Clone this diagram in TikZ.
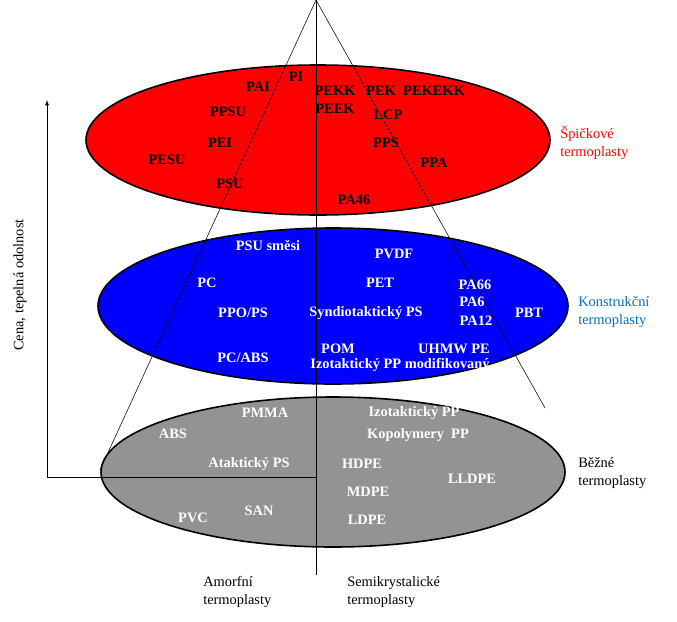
\documentclass[tikz,border=0pt]{standalone}
\usepackage{fontspec}
\setmainfont{Liberation Serif}
\usetikzlibrary{positioning}
\tikzset{
  plast/.style={draw=black,line width=1.2pt},
  lbl/.style={font=\bfseries\fontsize{10.8}{12}\selectfont,inner sep=0pt},
  lblw/.style={lbl,text=white},
  side/.style={font=\fontsize{10.8}{14}\selectfont,align=left,anchor=west,inner sep=0pt},
}
\begin{document}
\begin{tikzpicture}[x=0.75pt,y=-0.75pt]
\useasboundingbox (0,0) rectangle (677,621);
% ellipses
\fill[red] (318,140) ellipse (232 and 75);
\draw[plast] (318,140) ellipse (232 and 75);
\fill[blue] (333,306) ellipse (235 and 78);
\draw[plast] (333,306) ellipse (235 and 78);
\fill[gray!85] (333,472) ellipse (232 and 75);
\draw[plast] (333,472) ellipse (232 and 75);
% triangle and divider
\coordinate (apex) at (316,0);
\coordinate (lft) at (100,470);
\coordinate (rgt) at (545,408);
\coordinate (bot) at (316,575);
\draw (lft) -- (apex) -- (rgt);
\draw (apex) -- (bot);
% axes
\coordinate (o) at (47,477);
\coordinate (ytop) at (47,100);
\coordinate (xend) at (316,477);
\draw[-latex] (o) -- (ytop);
\draw (o) -- (xend);
\node[rotate=90,font=\fontsize{10.8}{12}\selectfont] (axis) at (20,285) {Cena, tepelná odolnost};
% red
\node[lbl] (pai) at (258,87) {PAI};
\node[lbl] (pi) at (296,77) {PI};
\node[lbl] (pekk) at (335,91) {PEKK};
\node[lbl] (pek) at (381,91) {PEK};
\node[lbl] (pekekk) at (434,91) {PEKEKK};
\node[lbl] (peek) at (335,109) {PEEK};
\node[lbl] (lcp) at (388,115) {LCP};
\node[lbl] (ppsu) at (228,112) {PPSU};
\node[lbl] (pei) at (220,143) {PEI};
\node[lbl] (pps) at (386,143) {PPS};
\node[lbl] (pesu) at (167,160) {PESU};
\node[lbl] (ppa) at (434,163) {PPA};
\node[lbl] (psu) at (230,184) {PSU};
\node[lbl] (pa46) at (354,200) {PA46};
% blue
\node[lblw] (psus) at (268,245) {PSU směsi};
\node[lblw] (pvdf) at (394,254) {PVDF};
\node[lblw] (pc) at (207,283) {PC};
\node[lblw] (pet) at (380,283) {PET};
\node[lblw] (pa66) at (475,285) {PA66};
\node[lblw] (pa6) at (472,302) {PA6};
\node[lblw] (pbt) at (529,313) {PBT};
\node[lblw] (ppops) at (243,313) {PPO/PS};
\node[lblw] (sps) at (366,313) {Syndiotaktický PS};
\node[lblw] (pa12) at (476,321) {PA12};
\node[lblw] (pom) at (338,349) {POM};
\node[lblw] (uhmw) at (454,349) {UHMW PE};
\node[lblw] (pcabs) at (243,358) {PC/ABS};
\node[lblw] (ippm) at (400,365) {Izotaktický PP modifikovaný};
% gray
\node[lblw] (pmma) at (265,413) {PMMA};
\node[lblw] (ipp) at (414,413) {Izotaktický PP};
\node[lblw] (abs) at (173,434) {ABS};
\node[lblw] (kpp) at (418,435) {Kopolymery\ \ PP};
\node[lblw] (aps) at (249,464) {Ataktický PS};
\node[lblw] (hdpe) at (362,464) {HDPE};
\node[lblw] (lldpe) at (472,479) {LLDPE};
\node[lblw] (mdpe) at (368,492) {MDPE};
\node[lblw] (san) at (259,511) {SAN};
\node[lblw] (pvc) at (193,518) {PVC};
\node[lblw] (ldpe) at (367,520) {LDPE};
% side labels
\node[side,text=red] (spic) at (560,143) {Špičkové\\termoplasty};
\node[side,text={rgb,255:red,0;green,112;blue,192}] (konst) at (578,312) {Konstrukční\\termoplasty};
\node[side] (bezne) at (578,473) {Běžné\\termoplasty};
\node[side] (amorf) at (203,592) {Amorfní\\termoplasty};
\node[side] (semi) at (347,592) {Semikrystalické\\termoplasty};
\end{tikzpicture}
\end{document}
